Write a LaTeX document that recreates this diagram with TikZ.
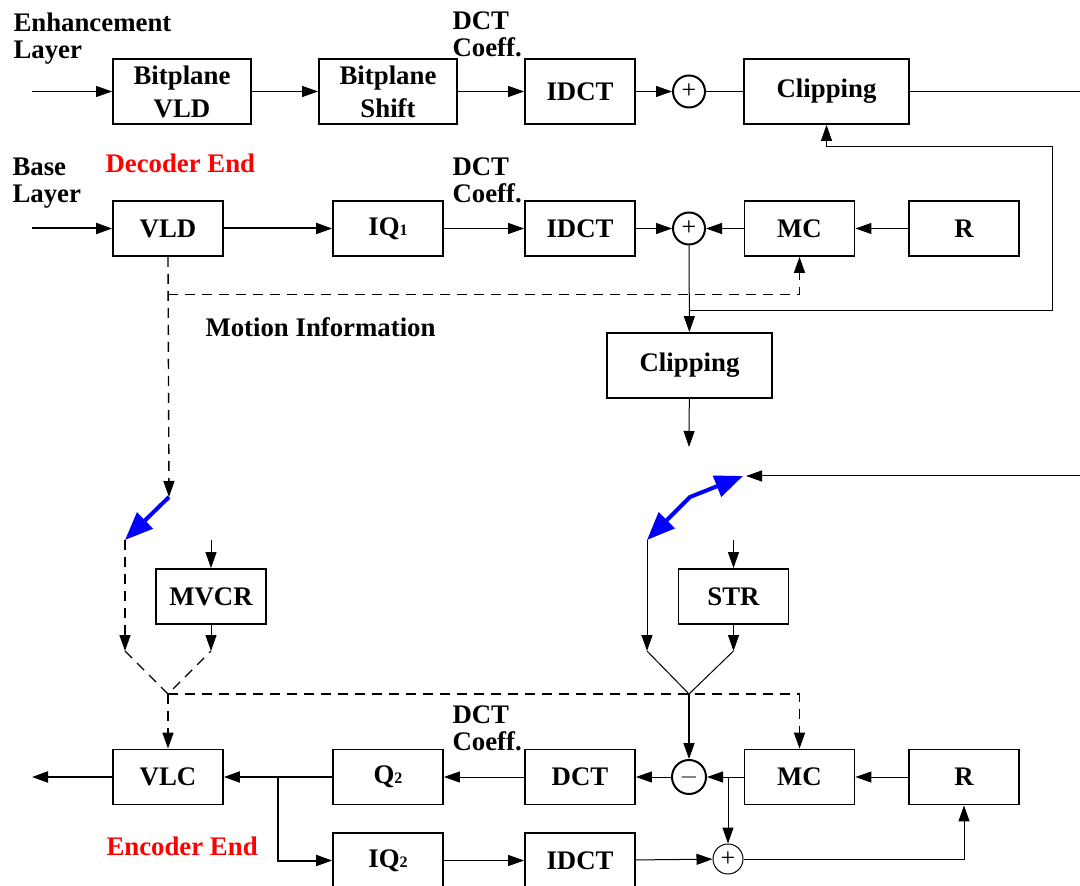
\documentclass[tikz,border=0pt]{standalone}
\usepackage{fontspec}
\setmainfont{Liberation Serif}
\usetikzlibrary{arrows.meta}
\newcommand{\lowidx}[1]{{\fontsize{8}{8}\selectfont #1}}
\tikzset{bighead/.tip={Triangle[length=14pt,width=11pt]}}

\begin{document}
\begin{tikzpicture}[x=0.5pt, y=-0.5pt, line width=0.5pt, >={Triangle[length=8pt,width=5.5pt]},
  blk/.style={draw, line width=0.9pt, font=\fontsize{13.4}{16.5}\selectfont\bfseries, align=center, minimum width=55pt, minimum height=27.5pt, inner sep=0pt},
  tall/.style={minimum width=69pt, minimum height=32.5pt},
  sum/.style={draw, circle, line width=1pt, minimum size=16pt, inner sep=0pt, font=\fontsize{13}{13}\selectfont},
  lbl/.style={font=\fontsize{13.4}{13.5}\selectfont\bfseries, align=left, inner sep=0pt, anchor=north west},
  redlbl/.style={font=\fontsize{13.4}{13.5}\selectfont\bfseries, text=red, inner sep=0pt, anchor=base west},
  main/.style={line width=1pt},
  dsh/.style={line width=0.7pt, dash pattern=on 5pt off 3.5pt},
  swt/.style={blue, line width=2pt}]
  \useasboundingbox (0,0) rectangle (1080,886);
  \clip (0,0) rectangle (1080,886);

  % enhancement layer
  \node[lbl] (enh) at (13,12) {Enhancement\\Layer};
  \node[lbl] (coefa) at (452,11) {DCT\\Coeff.};
  \node[blk, tall] (bvld) at (182,91.5) {Bitplane\\VLD};
  \node[blk, tall] (bshift) at (388,91.5) {Bitplane\\Shift};
  \node[blk, minimum height=32.5pt] (idcta) at (580,91.5) {IDCT};
  \node[sum] (plusa) at (689,91.5) {+};
  \node[blk, minimum width=82.5pt, minimum height=32.5pt] (clipa) at (826.5,91.5) {Clipping};
  \coordinate (ein) at (32,91.5);
  \coordinate (eout) at (1090,91.5);
  \draw[->] (ein) -- (bvld);
  \draw[->] (bvld) -- (bshift);
  \draw[->] (bshift) -- (idcta);
  \draw[->] (idcta) -- (plusa);
  \draw (plusa) -- (clipa);
  \draw (clipa) -- (eout);

  % base layer
  \node[lbl] (base) at (12,157) {Base\\Layer};
  \node[redlbl] (dec) at (105,173) {Decoder End};
  \node[lbl] (coefb) at (452,157) {DCT\\Coeff.};
  \node[blk] (vld) at (168,228.5) {VLD};
  \node[blk] (iq1) at (388,228.5) {IQ\lowidx{1}};
  \node[blk] (idctb) at (580,228.5) {IDCT};
  \node[sum] (plusb) at (689,228.5) {+};
  \node[blk] (mca) at (799.5,228.5) {MC};
  \node[blk] (ra) at (964,228.5) {R};
  \node[blk, minimum width=82.5pt, minimum height=32.5pt] (clipb) at (689.5,365.5) {Clipping};
  \node[lbl, anchor=base west] (motion) at (205,337) {Motion Information};
  \coordinate (bin) at (32,228.5);
  \draw[->, main] (bin) -- (vld);
  \draw[->, main] (vld) -- (iq1);
  \draw[->] (iq1) -- (idctb);
  \draw[->] (idctb) -- (plusb);
  \draw[->] (mca) -- (plusb);
  \draw[->] (ra) -- (mca);
  \draw[->] (plusb) -- (clipb);
  \coordinate (fb) at (689,311);
  \coordinate (fr) at (1052,147);
  \draw[->] (fb) -| (fr) -| (clipa.south);
  \coordinate (mi) at (168,294.5);
  \draw[dsh, ->] (mi) -| (mca.south);
  \coordinate (clipout) at (689,447);
  \draw[->] (clipb) -- (clipout);

  % switches
  \coordinate (swl) at (169,497);
  \coordinate (swlt) at (125,540);
  \draw[dsh, ->] (vld.south) -- (swl);
  \draw[swt, -bighead] (swl) -- (swlt);
  \coordinate (swrl) at (647,540);
  \coordinate (swrm) at (690,497);
  \coordinate (swrr) at (743,476);
  \coordinate (rin) at (1090,476);
  \coordinate (rend) at (746,476);
  \draw[->] (rin) -- (rend);
  \draw[swt, bighead-bighead, line join=round] (swrl) -- (swrm) -- (swrr);

  % MVCR and STR
  \node[blk] (mvcr) at (211,596.5) {MVCR};
  \node[blk] (str) at (733.5,596.5) {STR};
  \coordinate (mvin) at (211,540);
  \coordinate (ml) at (125,651);
  \coordinate (mr) at (211,651);
  \coordinate (mj) at (168,694);
  \draw[dsh, ->] (swlt) -- (ml);
  \draw[->] (mvin) -- (mvcr);
  \draw[->] (mvcr) -- (mr);
  \draw[dsh] (ml) -- (mj) -- (mr);
  \coordinate (strin) at (733.5,540);
  \coordinate (sl) at (647,651);
  \coordinate (sr) at (733.5,651);
  \coordinate (sj) at (689,694);
  \draw[->] (swrl) -- (sl);
  \draw[->] (strin) -- (str);
  \draw[->] (str) -- (sr);
  \draw (sl) -- (sj) -- (sr);

  % encoder
  \node[lbl] (coefc) at (452,705) {DCT\\Coeff.};
  \node[redlbl] (enc) at (106,855) {Encoder End};
  \node[blk] (vlc) at (168,777) {VLC};
  \node[blk] (q2) at (388,777) {Q\lowidx{2}};
  \node[blk] (dct) at (580,777) {DCT};
  \node[sum, minimum size=17pt] (minus) at (689,777) {$-$};
  \node[blk] (mcb) at (799.5,777) {MC};
  \node[blk] (rb) at (964,777) {R};
  \node[blk] (iq2) at (388,860.5) {IQ\lowidx{2}};
  \node[blk] (idctc) at (580,860.5) {IDCT};
  \node[sum, line width=0.5pt, minimum size=15pt] (plusc) at (728,859) {+};
  \draw[dsh, ->] (mj) -- (vlc);
  \draw[dsh, ->] (mj) -| (mcb.north);
  \draw[->, line width=0.8pt] (sj) -- (minus);
  \draw[->] (mcb) -- (minus);
  \draw[->] (rb) -- (mcb);
  \draw[->] (minus) -- (dct);
  \draw[->] (dct) -- (q2);
  \draw[->, main] (q2) -- (vlc);
  \coordinate (vout) at (32,777);
  \draw[->, main] (vlc) -- (vout);
  \coordinate (br) at (278,777);
  \draw[->, main] (br) |- (iq2);
  \draw[->] (iq2) -- (idctc);
  \draw[->] (idctc) -- (plusc);
  \coordinate (mcbr) at (728,777);
  \draw[->] (mcbr) -- (plusc);
  \draw[->] (plusc) -| (rb.south);
\end{tikzpicture}
\end{document}
